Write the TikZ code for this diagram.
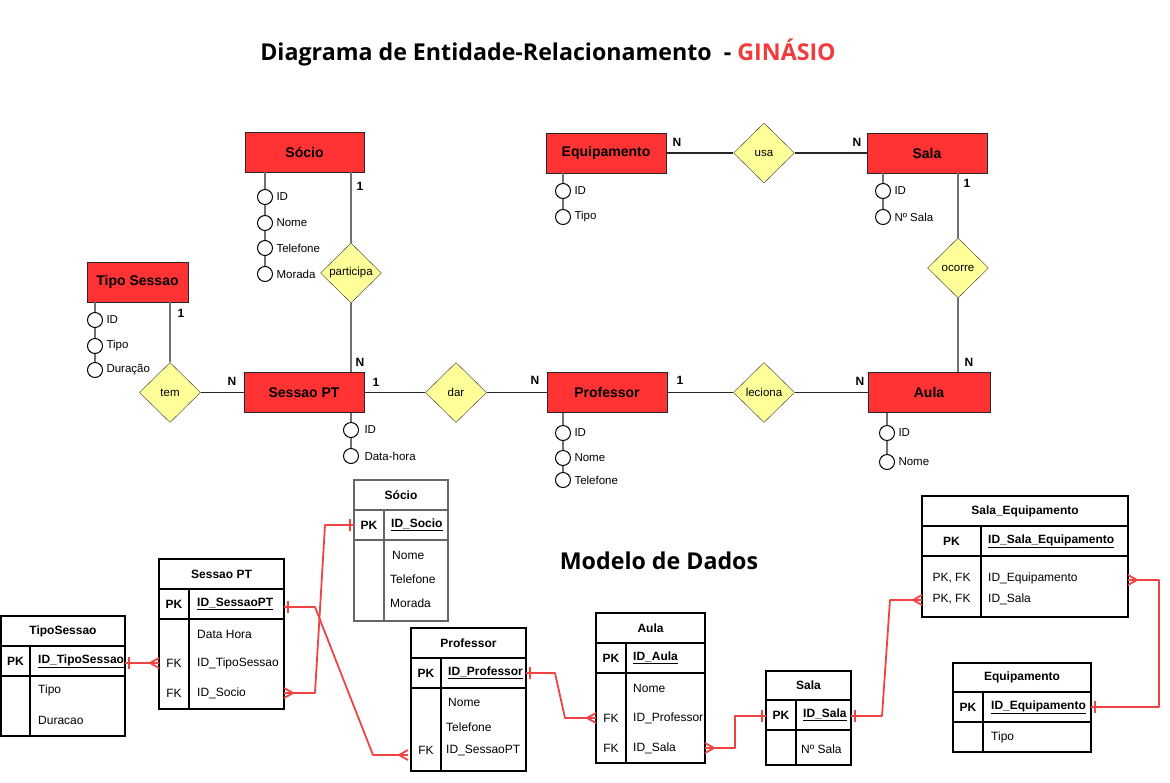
\documentclass[tikz,border=0pt]{standalone}
\usepackage{fontspec}
\setmainfont{Liberation Sans}
\newfontfamily\titlefont{Open Sans}
\usepackage{tikz}
\usetikzlibrary{shapes.geometric}
\usetikzlibrary{decorations.markings}

\definecolor{entred}{HTML}{FF3333}
\definecolor{relyel}{HTML}{FFFF99}
\definecolor{fkred}{HTML}{EE4444}
\definecolor{titred}{HTML}{F03C3C}
\definecolor{lngray}{HTML}{707070}

\tikzset{
  entidade/.style={draw=black!85, fill=entred, minimum width=120pt, minimum height=40pt, inner sep=0pt, font=\fontsize{14}{16}\selectfont\bfseries},
  relacao/.style={diamond, draw=black!80, fill=relyel, minimum width=61pt, minimum height=60pt, inner sep=0pt, font=\fontsize{11.5}{13}\selectfont},
  atrib/.style={circle, draw=black, fill=white, minimum size=15pt, inner sep=0pt, line width=1pt},
  atxt/.style={font=\fontsize{11.5}{13}\selectfont},
  card/.style={font=\fontsize{12}{14}\selectfont\bfseries},
  erline/.style={draw=black!85, line width=1.1pt},
  erlineg/.style={draw=lngray, line width=1.3pt},
  tabela/.style={line width=1.3pt},
  ttit/.style={font=\fontsize{12}{14}\selectfont\bfseries},
  tkey/.style={font=\fontsize{12}{14}\selectfont},
  tkeyb/.style={font=\fontsize{12}{14}\selectfont\bfseries},
  tcell/.style={font=\fontsize{12}{14}\selectfont, anchor=west, inner sep=0pt},
  tcellb/.style={font=\fontsize{12}{14}\selectfont\bfseries, anchor=west, inner sep=0pt},
  ligacao/.style={draw=fkred, line width=1.8pt, line join=round},
  umini/.style={postaction={decorate, decoration={markings, mark=at position 0 with {\draw[ligacao] (4,-6) -- (4,6);}}}},
  umfim/.style={postaction={decorate, decoration={markings, mark=at position 1 with {\draw[ligacao] (-4,-6) -- (-4,6);}}}},
  muitosini/.style={postaction={decorate, decoration={markings, mark=at position 0 with {\draw[ligacao] (0,-5) -- (9,0) -- (0,5);}}}},
  muitosfim/.style={postaction={decorate, decoration={markings, mark=at position 1 with {\draw[ligacao] (0,-5) -- (-9,0) -- (0,5);}}}}
}

\begin{document}
\begin{tikzpicture}[x=1pt,y=-1pt]
\useasboundingbox (0,0) rectangle (1170,782);
\fill[white] (0,0) rectangle (1170,782);

\node[font=\titlefont\bfseries\fontsize{23.2}{26}\selectfont] (titulo) at (548,52) {Diagrama de Entidade-Relacionamento\ \ - \textcolor{titred}{GINÁSIO}};

% entidades, these are the red boxes of the ER part
\node[entidade, minimum width=119pt] (socio) at (304.5,152) {Sócio};
\node[entidade] (equip) at (606,153) {Equipamento};
\node[entidade] (sala) at (927,153) {Sala};
\node[entidade, minimum width=101pt] (tiposessao) at (137.5,282) {Tipo Sessao};
\node[entidade] (sessao) at (304,392.5) {Sessao PT};
\node[entidade] (professor) at (607,392.5) {Professor};
\node[entidade, minimum width=122pt] (aula) at (929,392.5) {Aula};

% relacoes (the yellow diamonds)
\node[relacao] (participa) at (351,273) {participa};
\node[relacao] (usa) at (764,153) {usa};
\node[relacao] (ocorre) at (958,268) {ocorre};
\node[relacao] (tem) at (170,392.5) {tem};
\node[relacao] (dar) at (456,392.5) {dar};
\node[relacao] (leciona) at (764,392.5) {leciona};

\draw[erlineg] (socio.south -| participa) -- (participa.north);  % vertical lines first
\draw[erlineg] (participa.south) -- (participa.south |- sessao.north);
\draw[erlineg] (tiposessao.south -| tem) -- (tem.north);
\draw[erlineg] (sala.south -| ocorre) -- (ocorre.north);
\draw[erlineg] (ocorre.south) -- (ocorre.south |- aula.north);
\draw[erline] (tem.east) -- (sessao.west);  % then the horizontal ones
\draw[erline] (sessao.east) -- (dar.west);
\draw[erline] (dar.east) -- (professor.west);
\draw[erline] (professor.east) -- (leciona.west);
\draw[erline] (leciona.east) -- (aula.west);
\draw[erline] (equip.east) -- (usa.west);
\draw[erline] (usa.east) -- (sala.west);

% cardinalidades
\node[card] (c1) at (360,186) {1};
\node[card] (c2) at (360,362) {N};
\node[card] (c3) at (181,313) {1};
\node[card] (c4) at (232,381) {N};
\node[card] (c5) at (376,382) {1};
\node[card] (c6) at (535,380) {N};
\node[card] (c7) at (680,380) {1};
\node[card] (c8) at (860,381) {N};
\node[card] (c9) at (677,142) {N};
\node[card] (c10) at (857,142) {N};
\node[card] (c11) at (967,183) {1};
\node[card] (c12) at (969,362) {N};

% atributos: small circles with the text on the right
\foreach \n/\y/\t in {1/197/ID, 2/223/Nome, 3/248/Telefone, 4/274/Morada}
  \node[atrib, label={[atxt]right:\t}] (socA\n) at (265,\y) {};
\foreach \n/\y/\t in {1/320/ID, 2/346/Tipo, 3/370/Duração}
  \node[atrib, label={[atxt]right:\t}] (tsA\n) at (95,\y) {};
\foreach \n/\y/\t in {1/430/ID, 2/456/Data-hora}
  \node[atrib, label={[atxt, label distance=2pt]right:\t}] (spA\n) at (351,\y) {};
\foreach \n/\y/\t in {1/191/ID, 2/217/Tipo}
  \node[atrib, label={[atxt]right:\t}] (eqA\n) at (563,\y) {};
\foreach \n/\y/\t in {1/191/ID, 2/217/Nº Sala}
  \node[atrib, label={[atxt]right:\t}] (saA\n) at (883,\y) {};
\foreach \n/\y/\t in {1/433/ID, 2/458/Nome, 3/480/Telefone}
  \node[atrib, label={[atxt]right:\t}] (prA\n) at (563,\y) {};
\foreach \n/\y/\t in {1/433/ID, 2/462/Nome}
  \node[atrib, label={[atxt]right:\t}] (auA\n) at (887,\y) {};

\draw[erlineg] (socio.south -| socA1) -- (socA1.north) (socA1.south) -- (socA2.north) (socA2.south) -- (socA3.north) (socA3.south) -- (socA4.north);
\draw[erlineg] (tiposessao.south -| tsA1) -- (tsA1.north) (tsA1.south) -- (tsA2.north) (tsA2.south) -- (tsA3.north);
\draw[erlineg] (sessao.south -| spA1) -- (spA1.north) (spA1.south) -- (spA2.north);
\draw[erlineg] (equip.south -| eqA1) -- (eqA1.north) (eqA1.south) -- (eqA2.north);
\draw[erlineg] (sala.south -| saA1) -- (saA1.north) (saA1.south) -- (saA2.north);
\draw[erlineg] (professor.south -| prA1) -- (prA1.north) (prA1.south) -- (prA2.north) (prA2.south) -- (prA3.north);
\draw[erlineg] (aula.south -| auA1) -- (auA1.north) (auA1.south) -- (auA2.north);

% modelo de dados
\node[font=\titlefont\bfseries\fontsize{23.2}{26}\selectfont] (modelo) at (659,561) {Modelo de Dados};

% tables: left, top, right, bottom, title line, pk line, column line, colour
\foreach \xa/\ya/\xb/\yb/\yt/\yp/\xd/\cor in {1/616/125/736/646/676/30/black, 159/559/284/709/589/619/189/black, 354/480/448/621/510/540/384/black!60, 411/628/526/771/658/688/441/black, 596/613/705/763/643/673/626/black, 766/671/851/765/700/730/796/black, 922/496/1128/617/526/556/981/black, 953/663/1091/752/692/722/983/black}
{
  \draw[tabela, draw=\cor] (\xa,\ya) rectangle (\xb,\yb);
  \draw[tabela, draw=\cor] (\xa,\yt) -- (\xb,\yt) (\xa,\yp) -- (\xb,\yp) (\xd,\yt) -- (\xd,\yb);
}

\node[ttit] (tsT) at (63,631) {TipoSessao};
\node[tkeyb] (tsK) at (15.5,661) {PK};
\node[tcellb] (tsPKn) at (38,661) {\underline{ID\_TipoSessao}};
\node[tcell] (tsR1) at (38,690) {Tipo};
\node[tcell] (tsR2) at (38,720) {Duracao};

\node[ttit] (spT) at (221.5,574) {Sessao PT};
\node[tkeyb] (spK) at (174,604) {PK};
\node[tcellb] (spPKn) at (197,604) {\underline{ID\_SessaoPT}};
\node[tcell] (spR1) at (197,634) {Data Hora};
\node[tkey] (spK2) at (174,663) {FK};
\node[tcell] (spR2) at (197,663) {ID\_TipoSessao};
\node[tkey] (spK3) at (174,693) {FK};
\node[tcell] (spR3) at (197,693) {ID\_Socio};

\node[ttit] (scT) at (401,495) {Sócio};
\node[tkeyb] (scK) at (369,525) {PK};
\node[tcellb] (scPKn) at (391,525) {\underline{ID\_Socio}};
\node[tcell] (scR1) at (392,555) {Nome};
\node[tcell] (scR2) at (390,579) {Telefone};
\node[tcell] (scR3) at (390,603) {Morada};

\node[ttit] (prT) at (468.5,643) {Professor};
\node[tkeyb] (prK) at (426,673) {PK};
\node[tcellb] (prPKn) at (448,673) {\underline{ID\_Professor}};
\node[tcell] (prR1) at (448,702) {Nome};
\node[tcell] (prR2) at (446,727) {Telefone};
\node[tkey] (prK2) at (426,750) {FK};
\node[tcell] (prR3) at (446,750) {ID\_SessaoPT};

\node[ttit] (auT) at (650.5,628) {Aula};
\node[tkeyb] (auK) at (611,658) {PK};
\node[tcellb] (auPKn) at (633,658) {\underline{ID\_Aula}};
\node[tcell] (auR1) at (633,688) {Nome};
\node[tkey] (auK2) at (611,718) {FK};
\node[tcell] (auR2) at (633,718) {ID\_Professor};
\node[tkey] (auK3) at (611,748) {FK};
\node[tcell] (auR3) at (633,748) {ID\_Sala};

\node[ttit] (saT) at (808.5,685) {Sala};
\node[tkeyb] (saK) at (781,715) {PK};
\node[tcellb] (saPKn) at (803,715) {\underline{ID\_Sala}};
\node[tcell] (saR1) at (801,749) {Nº Sala};

\node[ttit] (seT) at (1025,511) {Sala\_Equipamento};
\node[tkeyb] (seK) at (951.5,541) {PK};
\node[tcellb] (sePKn) at (988,541) {\underline{ID\_Sala\_Equipamento}};
\node[tkey] (seK2) at (951.5,578) {PK, FK};
\node[tcell] (seR1) at (988,578) {ID\_Equipamento};
\node[tkey] (seK3) at (951.5,599) {PK, FK};
\node[tcell] (seR2) at (988,599) {ID\_Sala};

\node[ttit] (eqT) at (1022,677) {Equipamento};
\node[tkeyb] (eqK) at (968,707) {PK};
\node[tcellb] (eqPKn) at (991,707) {\underline{ID\_Equipamento}};
\node[tcell] (eqR1) at (991,737) {Tipo};

% ends of the red connectors on the table borders
\coordinate (tsP) at (125,663);
\coordinate (spF1) at (159,663);
\coordinate (spF2) at (284,693);
\coordinate (socP) at (354,525);
\coordinate (spP) at (284,607);
\coordinate (prF) at (408,755);
\coordinate (prP) at (526,673);
\coordinate (auF1) at (596,718);
\coordinate (auF2) at (705,748);
\coordinate (saP) at (766,716);
\coordinate (saP2) at (851,716);
\coordinate (seF2) at (922,600);
\coordinate (eqP) at (1091,707);
\coordinate (seF1) at (1128,580);

\draw[ligacao, umini, muitosfim] (tsP) -- (spF1);
\draw[ligacao, muitosini, umfim] (spF2) -- (315,693) -- (325,525) -- (socP);
\draw[ligacao, umini, muitosfim] (spP) -- (315,607) -- (373,755) -- (prF);
\draw[ligacao, umini, muitosfim] (prP) -- (555,673) -- (565,718) -- (auF1);
\draw[ligacao, muitosini, umfim] (auF2) -- (735,748) -- (735,716) -- (saP);
\draw[ligacao, umini, muitosfim] (saP2) -- (882,716) -- (890,600) -- (seF2);
\draw[ligacao, umini, muitosfim] (eqP) -- (1159,707) -- (1159,580) -- (seF1);
\end{tikzpicture}
\end{document}
